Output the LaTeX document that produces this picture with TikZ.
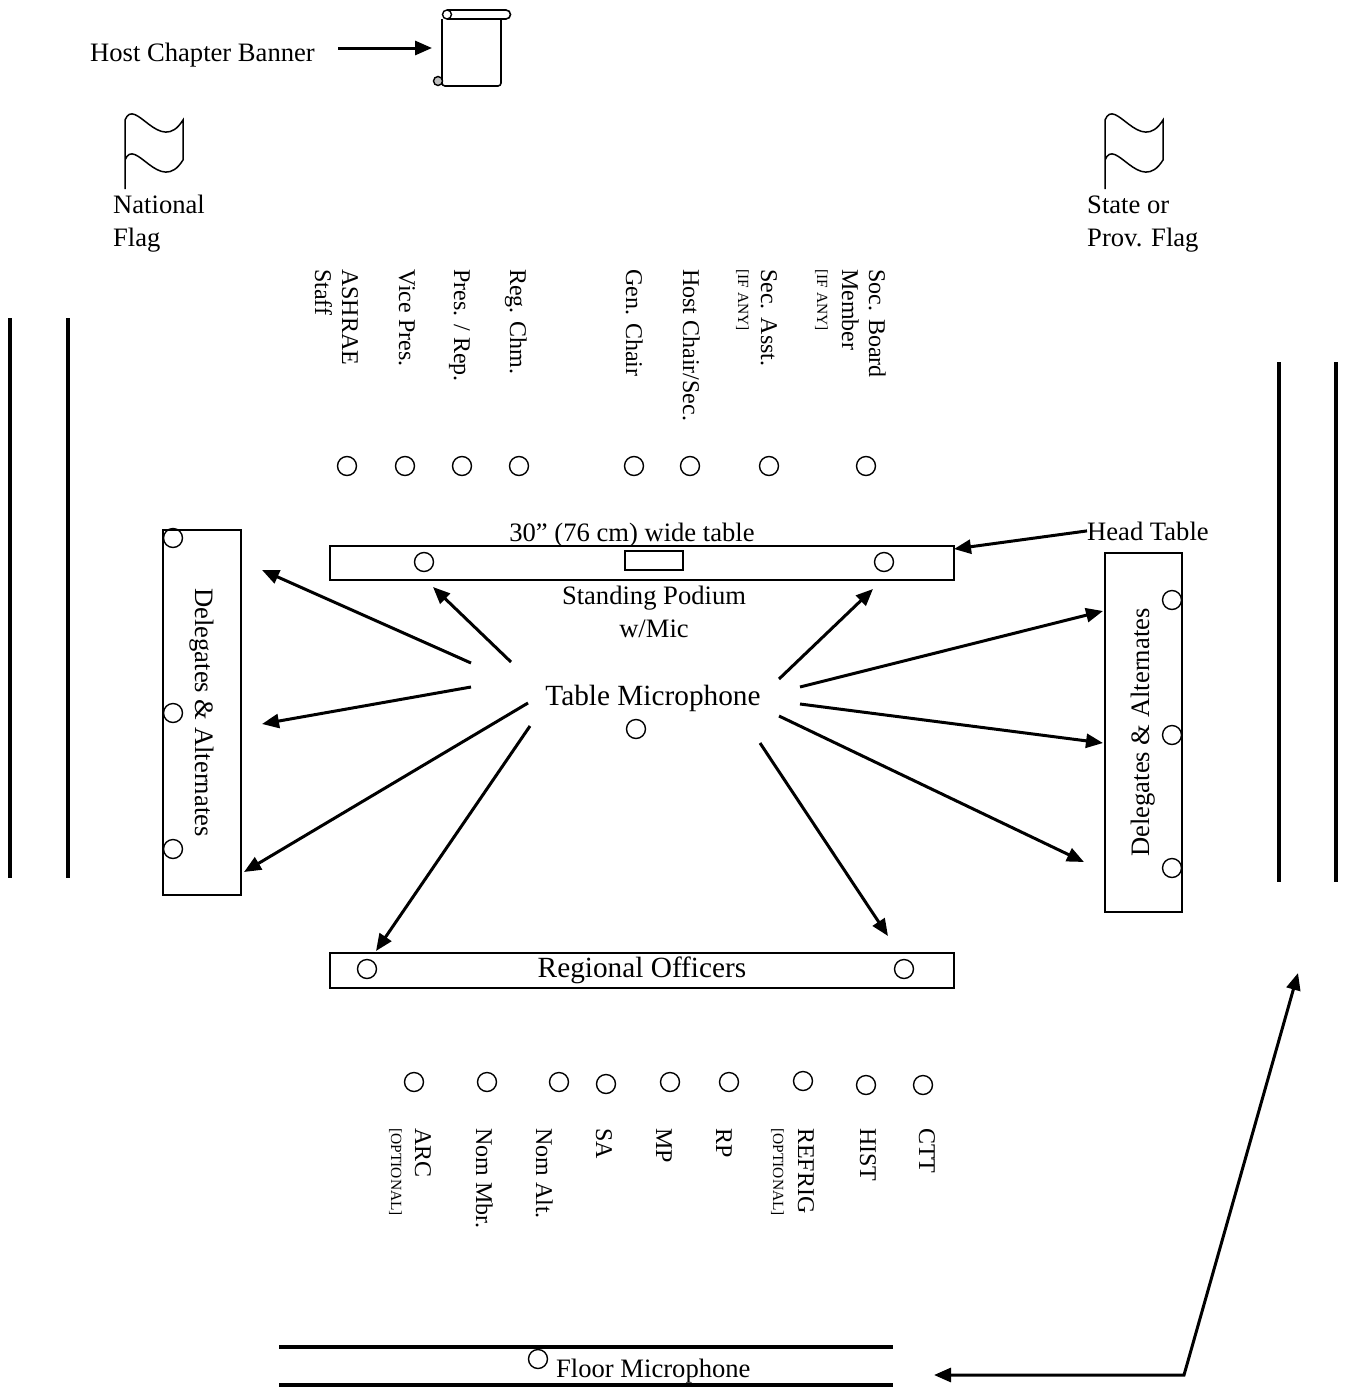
\documentclass[tikz,border=0pt]{standalone}
\usepackage{fontspec}
\setmainfont{Liberation Serif}
\usetikzlibrary{arrows.meta}
\newcommand{\lbl}{\fontsize{26.6}{33}\selectfont}
\newcommand{\biglbl}{\fontsize{29.3}{35}\selectfont}
\newcommand{\seatfont}{\fontsize{24}{27}\selectfont}
\newcommand{\tinycaps}{\fontsize{15.5}{18}\selectfont}
\begin{document}
\begin{tikzpicture}[x=1pt,y=-1pt,
  seat/.style={draw,circle,line width=1.4,minimum size=19,inner sep=0},
  tbl/.style={draw,line width=1.6,inner sep=0},
  ptr/.style={line width=3,-{Triangle[length=17pt,width=14pt]}},
  wall/.style={line width=3.5},
  down/.style={rotate=-90,anchor=base west,inner sep=0,font=\seatfont},
  downsmall/.style={down,font=\tinycaps},
  plain/.style={anchor=base west,inner sep=0,font=\lbl,align=left}]
\useasboundingbox (0,0) rectangle (1348,1387);
% banner and flags
\node[plain] (banlbl) at (90,61) {Host Chapter Banner};
\draw[line width=1.6,rounded corners=3] (442,19) -- (442,86) -- (501,86) -- (501,19);
\draw[line width=1.6] (447,10) -- (506,10) arc[start angle=-90,end angle=90,radius=4.5] -- (447,19);
\draw[line width=1.4] (447,14.5) circle (4.5);
\draw[line width=1.4,fill=gray!50] (438,81) circle (4.5);
\coordinate (banstart) at (338,48);
\coordinate (ban) at (432,48);
\draw[ptr] (banstart) -- (ban);
\foreach \fx in {125,1105}
  \draw[line width=1.5,shift={(\fx,0)}] (0,189) -- (0,120) .. controls (10,95) and (35,157) .. (58,120)
    -- (58,160) .. controls (35,197) and (10,135) .. (0,160);
\node[plain] (natflag) at (113,246) {National\\Flag};
\node[plain] (stateflag) at (1087,246) {State or\\Prov. Flag};
% walls
\draw[wall] (10,318) -- (10,878);
\draw[wall] (68,318) -- (68,878);
\draw[wall] (1279,362) -- (1279,882);
\draw[wall] (1336,362) -- (1336,882);
% head table
\foreach \x/\t [count=\i] in {342/ASHRAE, 399/Vice Pres., 454/{Pres. / Rep.}, 510/Reg. Chm.,
    626/Gen. Chair, 683/{Host Chair/Sec.}, 761/Sec. Asst., 869/Soc. Board}
  \node[down] (toplbl\i) at (\x,269) {\t};
\node[down] (staff) at (315,269) {Staff};
\node[downsmall] (secany) at (738,269) {[IF ANY]};
\node[down] (member) at (842,269) {Member};
\node[downsmall] (socany) at (817,269) {[IF ANY]};
\foreach \x [count=\i] in {347,405,462,519,634,690,769,866}
  \node[seat] (top\i) at (\x,466) {};
\node[anchor=base,inner sep=0,font=\lbl] (width) at (632,541) {30” (76 cm) wide table};
\node[tbl,minimum width=624,minimum height=34] (head) at (642,563) {};
\node[tbl,minimum width=58,minimum height=19] (podium) at (654,560.5) {};
\node[seat] (headL) at (424,562) {};
\node[seat] (headR) at (884,562) {};
\node[anchor=base,inner sep=0,font=\lbl,align=center] (podlbl) at (654,637) {Standing Podium\\w/Mic};
\node[plain] (headlbl) at (1087,540) {Head Table};
\coordinate (headtip) at (954,549);
\draw[ptr] (headlbl.west) -- (headtip);
% delegates
\node[tbl,rotate=-90,minimum width=365,minimum height=78,font=\lbl] (delL) at (202,712.5) {Delegates \& Alternates};
\node[tbl,rotate=90,minimum width=359,minimum height=77,font=\lbl] (delR) at (1143.5,732.5) {Delegates \& Alternates};
\foreach \y [count=\i] in {538,713,849}
  \node[seat] (dl\i) at (173,\y) {};
\foreach \y [count=\i] in {600,735,868}
  \node[seat] (dr\i) at (1172,\y) {};
% table microphone
\node[anchor=base,inner sep=0,font=\biglbl] (mic) at (653,705) {Table Microphone};
\node[seat] (micseat) at (636,729) {};
\foreach \s/\e [count=\i] in {{471,663}/{262,570}, {471,687}/{262,724}, {528,703}/{244,872},
    {511,662}/{433,587}, {530,726}/{376,951}, {779,679}/{873,589}, {800,687}/{1103,611},
    {800,704}/{1103,743}, {779,716}/{1084,862}, {760,743}/{888,936}} {
  \coordinate (from\i) at (\s);
  \coordinate (to\i) at (\e);
  \draw[ptr] (from\i) -- (to\i);
}
% regional officers
\node[tbl,minimum width=624,minimum height=35,font=\biglbl] (regoff) at (642,970.5) {Regional Officers};
\node[seat] (regL) at (367,969) {};
\node[seat] (regR) at (904,969) {};
\foreach \x/\y [count=\i] in {414/1082,487/1082,559/1082,606/1084,670/1082,729/1082,803/1081,866/1085,923/1085}
  \node[seat] (bot\i) at (\x,\y) {};
\foreach \x/\t [count=\i] in {415/ARC, 476/Nom Mbr., 536/Nom Alt., 596/SA, 656/MP, 716/RP,
    798/REFRIG, 860/HIST, 919/CTT}
  \node[down] (botlbl\i) at (\x,1128) {\t};
\node[downsmall] (arcopt) at (391,1128) {[OPTIONAL]};
\node[downsmall] (refopt) at (773,1128) {[OPTIONAL]};
% floor microphone
\draw[wall] (279,1347) -- (893,1347);
\draw[wall] (279,1385) -- (893,1385);
\node[seat] (floorseat) at (538,1359) {};
\node[plain] (floorlbl) at (556,1377) {Floor Microphone};
\coordinate (ftop) at (1298,973);
\coordinate (fcorner) at (1184,1375);
\coordinate (fleft) at (934,1375);
\draw[line width=3,{Triangle[length=17pt,width=14pt]}-{Triangle[length=17pt,width=14pt]}] (ftop) -- (fcorner) -- (fleft);
\end{tikzpicture}
\end{document}
